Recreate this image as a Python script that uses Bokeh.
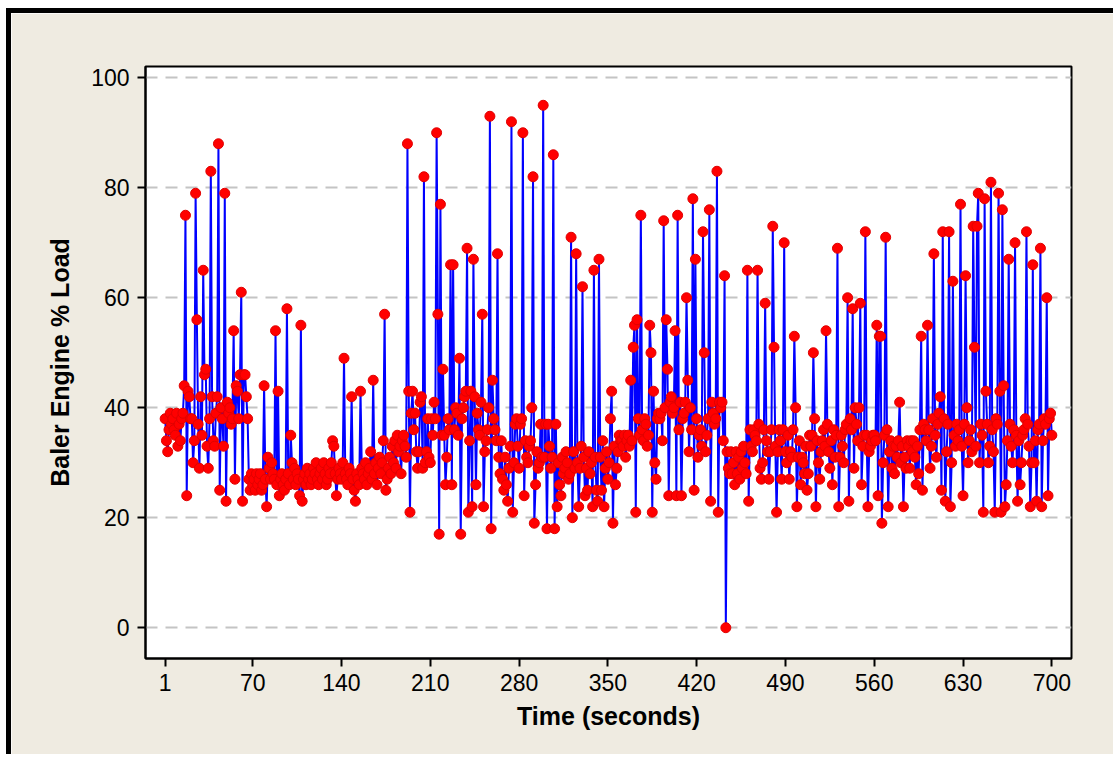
from bokeh.plotting import figure
from bokeh.models import FixedTicker, Range1d, ColumnDataSource
from bokeh.embed import file_html
from bokeh.resources import INLINE

x_ticks = [1, 70, 140, 210, 280, 350, 420, 490, 560, 630, 700]
y_ticks = [0, 20, 40, 60, 80, 100]
x_title = "Time (seconds)"
y_title = "Baler Engine % Load"

load_pct = [
    38, 34, 32, 36, 39, 37, 38, 36, 35, 39,
    33, 37, 34, 38, 39, 44, 75, 24, 43, 42,
    38, 38, 30, 34, 79, 56, 37, 29, 42, 35,
    65, 46, 47, 33, 29, 38, 83, 42, 34, 33,
    39, 42, 88, 25, 40, 38, 33, 79, 23, 41,
    39, 40, 37, 38, 54, 27, 44, 43, 38, 46,
    61, 23, 46, 46, 42, 38, 27, 25, 28, 26,
    27, 25, 28, 26, 27, 28, 25, 26, 44, 27,
    22, 31, 29, 27, 30, 28, 27, 54, 26, 43,
    24, 27, 28, 26, 25, 27, 58, 28, 26, 35,
    30, 27, 29, 26, 28, 27, 24, 55, 23, 27,
    28, 26, 29, 27, 28, 26, 27, 29, 28, 30,
    27, 26, 28, 29, 27, 30, 28, 26, 27, 29,
    28, 30, 34, 33, 28, 24, 27, 29, 28, 27,
    30, 49, 28, 27, 26, 29, 28, 42, 27, 25,
    23, 28, 27, 26, 43, 29, 28, 27, 30, 26,
    28, 29, 32, 27, 45, 28, 30, 26, 29, 31,
    28, 30, 34, 57, 25, 27, 29, 31, 28, 33,
    30, 34, 29, 35, 32, 33, 28, 34, 35, 33,
    31, 88, 43, 21, 39, 43, 36, 39, 32, 29,
    32, 41, 42, 29, 82, 30, 32, 38, 31, 30,
    38, 35, 41, 38, 90, 57, 17, 77, 35, 47,
    35, 26, 31, 38, 36, 66, 26, 66, 36, 40,
    39, 35, 49, 17, 38, 40, 42, 43, 69, 21,
    34, 43, 22, 67, 42, 26, 39, 36, 35, 41,
    57, 22, 32, 34, 36, 40, 93, 18, 45, 38,
    36, 34, 68, 31, 28, 34, 27, 25, 31, 26,
    23, 29, 33, 92, 21, 30, 37, 38, 33, 29,
    37, 38, 90, 24, 34, 31, 30, 33, 34, 40,
    82, 19, 26, 32, 29, 30, 37, 31, 95, 31,
    37, 18, 37, 33, 29, 31, 86, 18, 37, 22,
    30, 26, 24, 31, 28, 29, 32, 30, 27, 28,
    71, 20, 32, 29, 68, 30, 22, 29, 33, 62,
    31, 24, 29, 25, 32, 28, 30, 22, 65, 31,
    25, 23, 67, 31, 25, 34, 22, 29, 32, 27,
    30, 38, 43, 19, 33, 26, 29, 32, 35, 34,
    34, 33, 35, 31, 34, 35, 33, 45, 34, 51,
    55, 21, 56, 38, 35, 75, 36, 34, 38, 37,
    33, 35, 55, 50, 21, 43, 30, 27, 38, 39,
    38, 39, 34, 74, 40, 56, 47, 24, 41, 42,
    39, 40, 54, 24, 75, 36, 41, 24, 38, 39,
    41, 60, 45, 32, 40, 36, 78, 25, 67, 38,
    31, 35, 36, 33, 72, 50, 32, 35, 38, 76,
    23, 41, 39, 37, 38, 83, 21, 41, 40, 41,
    34, 64, 0, 32, 29, 28, 32, 28, 30, 26,
    32, 28, 31, 27, 32, 29, 33, 30, 28, 65,
    23, 36, 33, 32, 36, 35, 34, 65, 37, 29,
    27, 30, 36, 59, 34, 32, 27, 32, 36, 73,
    51, 33, 21, 32, 36, 34, 27, 36, 70, 32,
    30, 35, 27, 32, 31, 36, 53, 40, 22, 31,
    34, 26, 31, 30, 28, 33, 25, 28, 35, 33,
    35, 50, 38, 22, 34, 30, 27, 32, 34, 36,
    33, 54, 37, 32, 29, 34, 26, 36, 31, 35,
    69, 22, 31, 35, 33, 30, 36, 37, 60, 23,
    38, 36, 58, 29, 40, 37, 34, 40, 59, 26,
    33, 35, 72, 35, 22, 32, 33, 34, 35, 35,
    34, 55, 24, 53, 53, 19, 30, 35, 71, 36,
    22, 32, 34, 29, 33, 28, 33, 31, 34, 41,
    30, 33, 22, 31, 29, 34, 33, 29, 34, 32,
    34, 31, 26, 33, 28, 36, 53, 25, 37, 36,
    34, 55, 36, 29, 33, 38, 68, 35, 31, 37,
    39, 42, 25, 72, 38, 23, 32, 37, 72, 22,
    30, 63, 35, 33, 37, 34, 36, 77, 33, 24,
    37, 64, 40, 30, 34, 36, 32, 73, 51, 33,
    73, 79, 30, 37, 35, 21, 78, 43, 37, 30,
    33, 81, 36, 32, 21, 38, 37, 79, 43, 21,
    76, 44, 22, 26, 34, 67, 37, 33, 30, 36,
    70, 35, 23, 34, 26, 30, 35, 36, 38, 72,
    37, 33, 22, 30, 66, 30, 34, 23, 36, 37,
    69, 22, 34, 38, 37, 60, 24, 38, 39, 35,
]
time_s = list(range(1, len(load_pct) + 1))

src = ColumnDataSource(data=dict(t=time_s, v=load_pct))

BG = "#EFEBE1"
FONT = "Liberation Sans"

p = figure(width=1107, height=746, output_backend="svg", toolbar_location=None,
           x_range=Range1d(-14.5, 715.5), y_range=Range1d(-5.6, 102.05),
           min_border_left=134, min_border_right=47, min_border_top=53, min_border_bottom=101)
p.styles = {"margin-left": "6px", "margin-top": "8px",
            "border-top": "5px solid black", "border-left": "5px solid black"}

p.background_fill_color = "white"
p.border_fill_color = BG
p.outline_line_color = "black"
p.outline_line_width = 2

p.xgrid.grid_line_color = None
p.ygrid.grid_line_color = "#C4C4C4"
p.ygrid.grid_line_width = 2
p.ygrid.grid_line_dash = "12 8"

p.xaxis.ticker = FixedTicker(ticks=x_ticks)
p.yaxis.ticker = FixedTicker(ticks=y_ticks)

for ax in (p.xaxis, p.yaxis):
    ax.axis_line_color = "black"
    ax.axis_line_width = 2
    ax.major_tick_line_color = "black"
    ax.major_tick_line_width = 2
    ax.major_tick_out = 8
    ax.major_tick_in = 0
    ax.minor_tick_line_color = None
    ax.major_label_text_font = FONT
    ax.major_label_text_font_size = "23px"
    ax.major_label_text_color = "black"
    ax.axis_label_text_font = FONT
    ax.axis_label_text_font_style = "bold"
    ax.axis_label_text_font_size = "25px"
    ax.axis_label_text_color = "black"

p.xaxis.axis_label = x_title
p.yaxis.axis_label = y_title
p.xaxis.major_label_standoff = 7
p.yaxis.major_label_standoff = 8
p.xaxis.axis_label_standoff = 8
p.yaxis.axis_label_standoff = 14

p.line("t", "v", source=src, line_color="#0000FF", line_width=2)
p.scatter("t", "v", source=src, marker="circle", size=10,
          fill_color="#FF0000", line_color="#E00000", line_width=1)

open("out.html", "w").write(file_html(p, INLINE))
